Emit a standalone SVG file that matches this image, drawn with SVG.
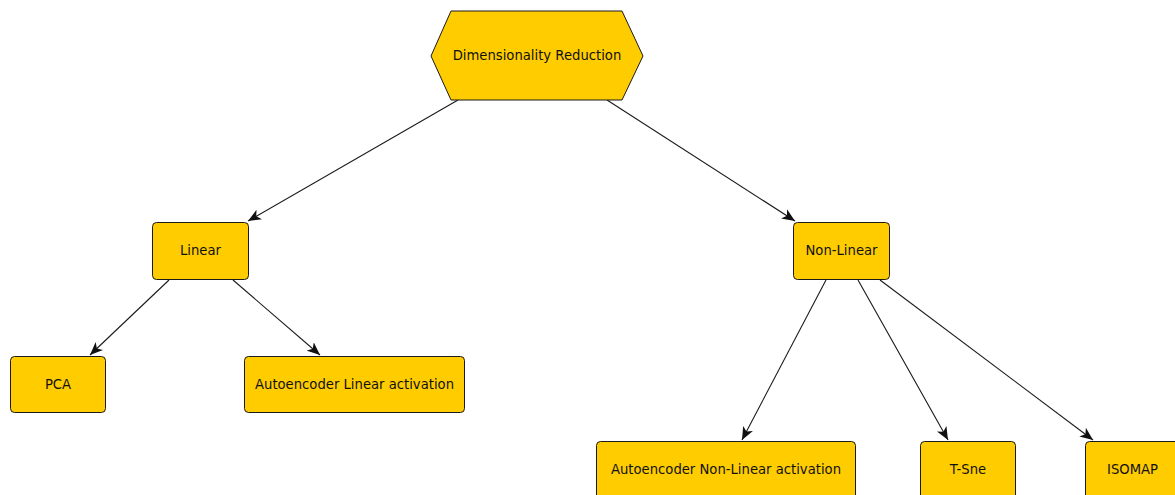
<svg xmlns="http://www.w3.org/2000/svg" width="1175" height="495" viewBox="0 0 1175 495">
  <style>
    .node { fill: #ffcc00; stroke: #1a1a1a; stroke-width: 1; }
    .label { font-family: "DejaVu Sans", sans-serif; font-size: 13.2px; fill: #111; text-anchor: middle; dominant-baseline: central; }
    .edge { stroke: #1a1a1a; stroke-width: 1.1; fill: none; marker-end: url(#arrow); }
  </style>
  <defs>
    <marker id="arrow" markerUnits="userSpaceOnUse" markerWidth="14" markerHeight="12" viewBox="0 0 14 12" refX="13" refY="6" orient="auto">
      <path d="M0,0.5 L13,6 L0,11.5 L3.5,6 Z" fill="#111"/>
    </marker>
  </defs>
  <rect width="1175" height="495" fill="#ffffff"/>

  <!-- connectors -->
  <g id="connectors">
    <line class="edge" x1="458" y1="100" x2="248" y2="221"/>
    <line class="edge" x1="607" y1="100" x2="795" y2="221"/>
    <line class="edge" x1="169" y1="280" x2="90" y2="355"/>
    <line class="edge" x1="233" y1="280" x2="320" y2="355"/>
    <line class="edge" x1="826" y1="280" x2="742" y2="440"/>
    <line class="edge" x1="858" y1="280" x2="948" y2="440"/>
    <line class="edge" x1="880" y1="280" x2="1093" y2="440"/>
  </g>

  <!-- root -->
  <g id="dimensionality-reduction">
    <polygon class="node" points="451,11 622,11 643,56 622,100 451,100 431,56"/>
    <text class="label" x="537" y="55">Dimensionality Reduction</text>
  </g>

  <g id="linear">
    <rect class="node" x="152.5" y="222.5" width="96" height="57" rx="4"/>
    <text class="label" x="200.5" y="250">Linear</text>
  </g>

  <g id="non-linear">
    <rect class="node" x="793.5" y="222.5" width="96" height="57" rx="4"/>
    <text class="label" x="841.5" y="250">Non-Linear</text>
  </g>

  <g id="pca">
    <rect class="node" x="10.5" y="356.5" width="95" height="56" rx="4"/>
    <text class="label" x="58" y="384">PCA</text>
  </g>

  <g id="autoencoder-linear">
    <rect class="node" x="244.5" y="356.5" width="220" height="56" rx="4"/>
    <text class="label" x="354.5" y="384">Autoencoder Linear activation</text>
  </g>

  <g id="autoencoder-non-linear">
    <rect class="node" x="596.5" y="441.5" width="259" height="60" rx="4"/>
    <text class="label" x="726" y="469">Autoencoder Non-Linear activation</text>
  </g>

  <g id="t-sne">
    <rect class="node" x="920.5" y="441.5" width="95" height="60" rx="4"/>
    <text class="label" x="968" y="469">T-Sne</text>
  </g>

  <g id="isomap">
    <rect class="node" x="1085.5" y="441.5" width="95" height="60" rx="4"/>
    <text class="label" x="1132.5" y="469">ISOMAP</text>
  </g>
</svg>
